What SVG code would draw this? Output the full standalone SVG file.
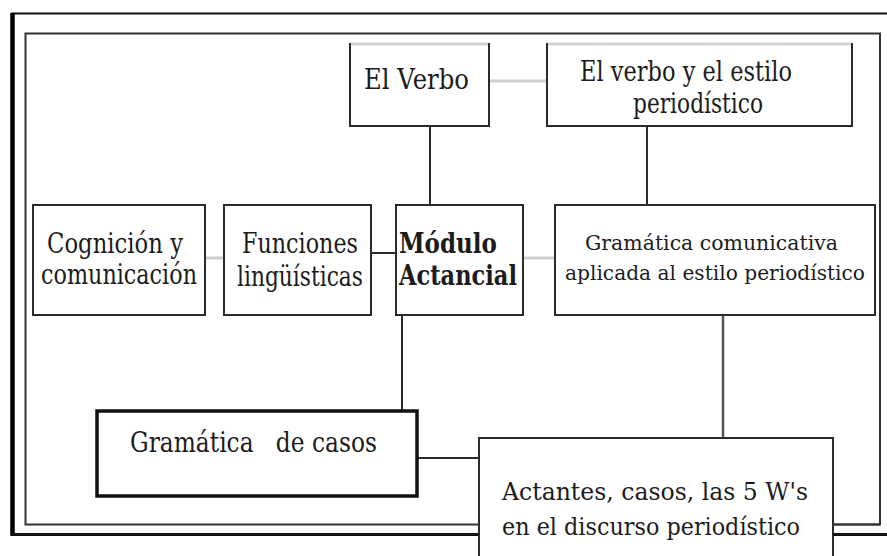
<svg xmlns="http://www.w3.org/2000/svg" width="887" height="556" viewBox="0 0 887 556">
<style>
.box{fill:#fff;stroke:#2b2b2b;stroke-width:2}
.thick{fill:#fff;stroke:#111;stroke-width:3.5}
.top{stroke:#d4d4d4;stroke-width:3}
.ln{stroke:#2b2b2b;stroke-width:2;fill:none}
.lt{stroke:#cfcfcf;stroke-width:3;fill:none}
.t{fill:#1c1c1c;font-size:27px;font-family:"DejaVu Serif","Liberation Serif",serif}
.b{font-weight:bold;font-size:27px}
.s{font-size:21px}
</style>
<rect width="887" height="556" fill="#fff"/>
<g id="frame">
<path d="M12.5 535 V13.5 H887" fill="none" stroke="#111" stroke-width="2"/>
<line x1="12.5" y1="13" x2="12.5" y2="536" stroke="#000" stroke-width="4.5"/>
<line x1="11" y1="534.5" x2="887" y2="534.5" stroke="#111" stroke-width="3"/>
<rect x="25.5" y="33.5" width="854.5" height="491" fill="none" stroke="#333" stroke-width="2"/>
</g>
<g id="connectors">
<line class="lt" x1="489" y1="81" x2="547" y2="81"/>
<line class="ln" x1="430" y1="126" x2="430" y2="205"/>
<line class="ln" x1="647" y1="126" x2="647" y2="205"/>
<line class="lt" x1="205" y1="258" x2="224" y2="258"/>
<line class="ln" x1="371" y1="253" x2="396" y2="253"/>
<line class="lt" x1="523" y1="258" x2="555" y2="258"/>
<line class="ln" x1="402" y1="315" x2="402" y2="410"/>
<line x1="723" y1="315" x2="723" y2="438" stroke="#555" stroke-width="2.5"/>
<line class="ln" x1="417" y1="458" x2="479" y2="458"/>
</g>
<g id="el-verbo">
<rect class="box" x="350" y="44" width="139" height="82"/>
<line class="top" x1="351" y1="44" x2="488" y2="44"/>
<text class="t" x="364" y="89" textLength="105" lengthAdjust="spacingAndGlyphs">El Verbo</text>
</g>
<g id="verbo-estilo">
<rect class="box" x="547" y="44" width="305" height="82"/>
<line class="top" x1="548" y1="44" x2="851" y2="44"/>
<text class="t" x="580" y="81" textLength="212" lengthAdjust="spacingAndGlyphs">El verbo y el estilo</text>
<text class="t" x="633" y="113" textLength="130" lengthAdjust="spacingAndGlyphs">periodístico</text>
</g>
<g id="cognicion">
<rect class="box" x="33" y="205" width="172" height="110"/>
<text class="t" x="47" y="253" textLength="136" lengthAdjust="spacingAndGlyphs">Cognición y</text>
<text class="t" x="41" y="284" textLength="156" lengthAdjust="spacingAndGlyphs">comunicación</text>
</g>
<g id="funciones">
<rect class="box" x="224" y="205" width="147" height="110"/>
<text class="t" x="242" y="253" textLength="116" lengthAdjust="spacingAndGlyphs">Funciones</text>
<text class="t" x="237" y="286" textLength="126" lengthAdjust="spacingAndGlyphs">lingüísticas</text>
</g>
<g id="modulo">
<rect class="box" x="396" y="205" width="127" height="110"/>
<text class="t b" x="399" y="253" textLength="98" lengthAdjust="spacingAndGlyphs">Módulo</text>
<text class="t b" x="399" y="285" textLength="118" lengthAdjust="spacingAndGlyphs">Actancial</text>
</g>
<g id="gramatica-comunicativa">
<rect class="box" x="555" y="205" width="320" height="110"/>
<text class="t s" x="585" y="250" textLength="253" lengthAdjust="spacingAndGlyphs">Gramática comunicativa</text>
<text class="t s" x="565" y="280" textLength="300" lengthAdjust="spacingAndGlyphs">aplicada al estilo periodístico</text>
</g>
<g id="gramatica-casos">
<rect class="thick" x="97" y="411" width="320" height="85"/>
<text class="t" x="130" y="452" style="font-size:28px" xml:space="preserve" textLength="247" lengthAdjust="spacingAndGlyphs">Gramática   de casos</text>
</g>
<g id="actantes">
<rect class="box" x="479" y="438" width="354" height="130"/>
<text class="t" style="font-size:25px" x="502" y="500" textLength="306" lengthAdjust="spacingAndGlyphs">Actantes, casos, las 5 W's</text>
<text class="t" style="font-size:25px" x="502" y="535" textLength="298" lengthAdjust="spacingAndGlyphs">en el discurso periodístico</text>
</g>
<g id="frame-right">
<line x1="833" y1="524.5" x2="880" y2="524.5" stroke="#333" stroke-width="2"/>
<line x1="833" y1="534.5" x2="887" y2="534.5" stroke="#111" stroke-width="3"/>
</g>
</svg>
